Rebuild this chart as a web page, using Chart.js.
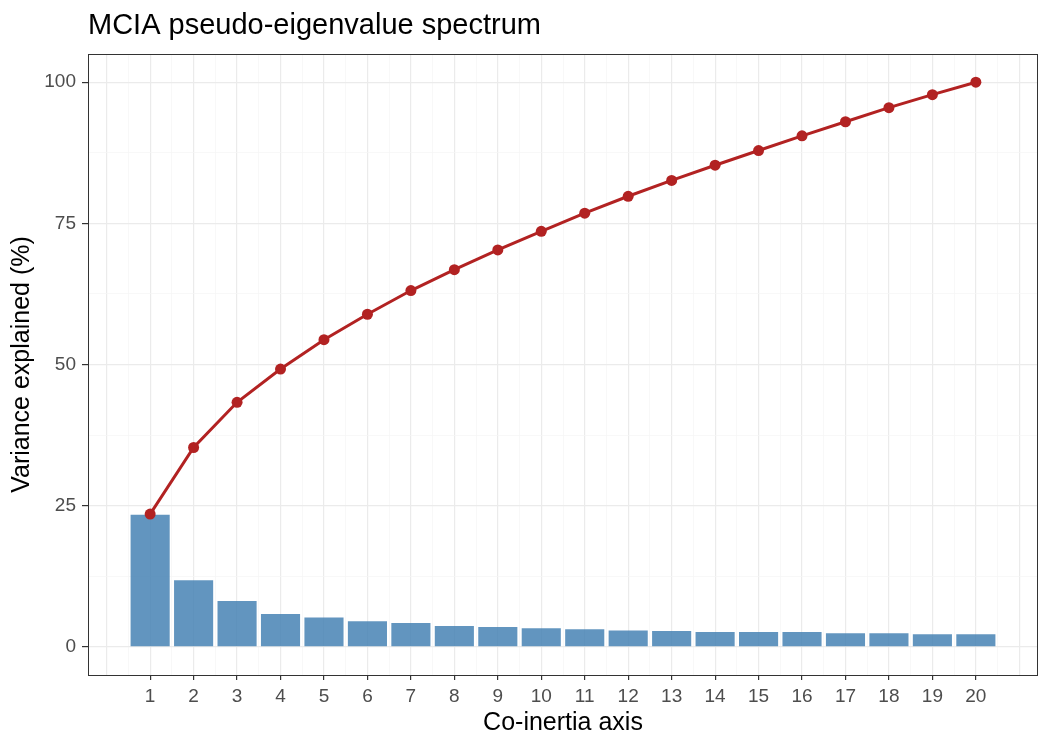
<!DOCTYPE html>
<html>
<head>
<meta charset="utf-8">
<script src="https://cdn.jsdelivr.net/npm/chart.js@4.4.1/dist/chart.umd.min.js"></script>
<style>
    html, body { margin: 0; padding: 0; background: #fff; }
    #wrap { width: 1050px; height: 750px; position: relative; }
</style>
</head>
<body>
<div id="wrap"><canvas id="spectrumChart" width="1050" height="750"></canvas></div>
<script>
/**
 * MCIA pseudo-eigenvalue spectrum
 */

const axes = [1, 2, 3, 4, 5, 6, 7, 8, 9, 10, 11, 12, 13, 14, 15, 16, 17, 18, 19, 20];
const varianceExplained = [23.4, 11.8, 8.1, 5.8, 5.2, 4.5, 4.2, 3.7, 3.5, 3.3,
                           3.1, 2.9, 2.8, 2.6, 2.6, 2.6, 2.4, 2.4, 2.2, 2.2];
const cumulativeVariance = [23.5, 35.3, 43.3, 49.2, 54.4, 58.9, 63.1, 66.8, 70.3, 73.6,
                            76.8, 79.8, 82.6, 85.3, 87.9, 90.5, 93.0, 95.5, 97.8, 100];
const yTickLabels = [0, 25, 50, 75, 100];

const FONT = "'Liberation Sans', Arial, Helvetica, sans-serif";

// Panel border + title (ggplot theme_bw look)
const panelPlugin = {
    id: 'panel',
    afterDraw(chart) {
        const { ctx, chartArea: a } = chart;
        ctx.save();
        ctx.strokeStyle = '#333333';
        ctx.lineWidth = 1;
        ctx.strokeRect(a.left + 0.5, a.top + 0.5, a.right - a.left - 1, a.bottom - a.top);
        ctx.fillStyle = '#000';
        ctx.font = `29px ${FONT}`;
        ctx.textBaseline = 'alphabetic';
        ctx.textAlign = 'left';
        ctx.fillText('MCIA pseudo-eigenvalue spectrum', a.left, 34);
        ctx.restore();
    }
};

function tickVal(c) {
    return c && c.tick ? c.tick.value : NaN;
}

function isLabelled(v) {
    return Number.isInteger(v) && v >= axes[0] && v <= axes[axes.length - 1];
}

function isMajorY(v) {
    return yTickLabels.includes(v);
}

const ctx = document.getElementById('spectrumChart').getContext('2d');

new Chart(ctx, {
    type: 'bar',
    data: {
        datasets: [
            {
                type: 'line',
                label: 'Cumulative',
                data: axes.map((a, i) => ({ x: a, y: cumulativeVariance[i] })),
                borderColor: '#B22222',
                backgroundColor: '#B22222',
                borderWidth: 3,
                pointRadius: 5.5,
                pointBorderWidth: 0,
                pointBackgroundColor: '#B22222',
                tension: 0,
                order: 0
            },
            {
                type: 'bar',
                label: 'Variance',
                data: axes.map((a, i) => ({ x: a, y: varianceExplained[i] })),
                backgroundColor: 'rgba(70, 130, 180, 0.85)',
                borderWidth: 0,
                categoryPercentage: 1,
                // ruler spacing is the half-step grid, so 0.9 of an axis step = 1.8
                barPercentage: 1.8,
                order: 1
            }
        ]
    },
    options: {
        responsive: false,
        animation: false,
        layout: { padding: { top: 54, right: 12, left: 0, bottom: 0 } },
        plugins: {
            legend: { display: false },
            tooltip: { enabled: false }
        },
        scales: {
            x: {
                type: 'linear',
                offset: false,
                min: -0.43,
                max: 21.43,
                afterBuildTicks: (scale) => {
                    const t = [];
                    for (let v = 0; v <= 21; v += 0.5) t.push({ value: v });
                    scale.ticks = t;
                },
                afterFit: (scale) => { scale.height = 75; },
                grid: {
                    offset: false,
                    color: (c) => Number.isInteger(tickVal(c)) ? '#ebebeb' : '#f5f5f5',
                    lineWidth: (c) => Number.isInteger(tickVal(c)) ? 1.2 : 0.7,
                    tickColor: (c) => isLabelled(tickVal(c)) ? '#333333' : 'rgba(0,0,0,0)',
                    tickLength: 5,
                    tickWidth: 1.2
                },
                border: { display: false },
                ticks: {
                    autoSkip: false,
                    maxRotation: 0,
                    padding: 5,
                    color: '#4d4d4d',
                    font: { family: FONT, size: 19 },
                    callback: (v) => isLabelled(v) ? String(v) : ''
                },
                title: {
                    display: true,
                    text: 'Co-inertia axis',
                    color: '#000',
                    font: { family: FONT, size: 25 },
                    padding: { top: 0, bottom: 12 }
                }
            },
            y: {
                type: 'linear',
                min: -5,
                max: 105,
                afterBuildTicks: (scale) => {
                    const t = [];
                    for (let v = 0; v <= 100; v += 12.5) t.push({ value: v });
                    scale.ticks = t;
                },
                afterFit: (scale) => { scale.width = 88; },
                grid: {
                    color: (c) => isMajorY(tickVal(c)) ? '#ebebeb' : '#f5f5f5',
                    lineWidth: (c) => isMajorY(tickVal(c)) ? 1.2 : 0.7,
                    tickColor: (c) => isMajorY(tickVal(c)) ? '#333333' : 'rgba(0,0,0,0)',
                    tickLength: 6,
                    tickWidth: 1.2
                },
                border: { display: false },
                ticks: {
                    autoSkip: false,
                    padding: 6,
                    color: '#4d4d4d',
                    font: { family: FONT, size: 19 },
                    callback: (v) => isMajorY(v) ? String(v) : ''
                },
                title: {
                    display: true,
                    text: 'Variance explained (%)',
                    color: '#000',
                    font: { family: FONT, size: 25 },
                    padding: { top: 7, bottom: 0 }
                }
            }
        }
    },
    plugins: [panelPlugin]
});
</script>
</body>
</html>
